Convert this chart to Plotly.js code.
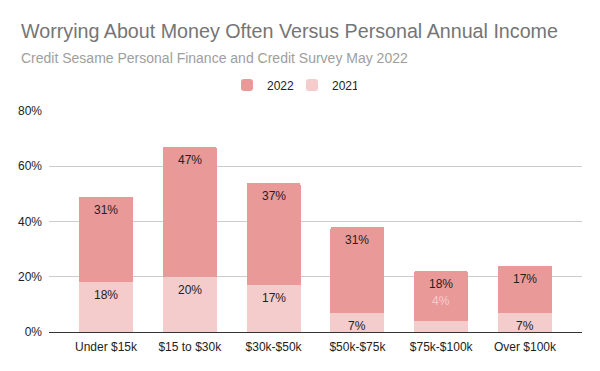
<!DOCTYPE html>
<html>
<head>
<meta charset="utf-8">
<script src="https://cdn.plot.ly/plotly-3.0.1.min.js"></script>
<style>html,body{margin:0;padding:0;background:#fff;}#chart{width:600px;height:371px;}</style>
</head>
<body>
<div id="chart"></div>
<script>
const categories = ["Under $15k", "$15 to $30k", "$30k-$50k", "$50k-$75k", "$75k-$100k", "Over $100k"];
const values2021 = [18, 20, 17, 7, 4, 7];
const values2022 = [31, 47, 37, 31, 18, 17];
const yTickVals = [0, 20, 40, 60, 80];
const yTickText = ["0%", "20%", "40%", "60%", "80%"];
const titleText = "Worrying About Money Often Versus Personal Annual Income";
const subtitleText = "Credit Sesame Personal Finance and Credit Survey May 2022";

const FONT = "Arial, 'Liberation Sans', sans-serif";
const small = values2021.map(v => v < 6);

const t2021 = {
  type: "bar", name: "2021", x: categories, y: values2021,
  marker: {color: "#f4cccc"}, hoverinfo: "skip"
};
const t2022 = {
  type: "bar", name: "2022", x: categories, y: values2022,
  marker: {color: "#ea9999"}, hoverinfo: "skip"
};

// plot area: top 111, bottom 332 (221px); left 49, width 533
const py = pix => (332 - pix) / 221;
const px = pix => (pix - 49) / 533;

const annotations = [{
  xref: "paper", yref: "paper", x: px(19), y: py(31),
  xanchor: "left", yanchor: "middle", showarrow: false,
  text: titleText, font: {family: FONT, size: 19.7, color: "#757575"}
}, {
  xref: "paper", yref: "paper", x: px(19), y: py(58),
  xanchor: "left", yanchor: "middle", showarrow: false,
  text: subtitleText, font: {family: FONT, size: 14, color: "#9e9e9e"}
}];
const labelFont = {family: FONT, size: 12, color: "#222"};
categories.forEach((c, i) => {
  const v1 = values2021[i], v2 = values2022[i];
  // 2022 label near top of the upper segment
  annotations.push({
    x: c, y: v1 + v2, xref: "x", yref: "y", yanchor: "top", yshift: -4,
    showarrow: false, text: v2 + "%", font: labelFont
  });
  if (small[i]) {
    annotations.push({
      x: c, y: v1, xref: "x", yref: "y", yanchor: "bottom",
      yshift: 11, showarrow: false, text: v1 + "%",
      font: {family: FONT, size: 12, color: "#f4cccc"}
    });
  } else {
    annotations.push({
      x: c, y: v1, xref: "x", yref: "y", yanchor: "top", yshift: -4,
      showarrow: false, text: v1 + "%", font: labelFont
    });
  }
});

const layout = {
  width: 600, height: 371,
  margin: {l: 49, r: 18, t: 111, b: 39},
  paper_bgcolor: "#fff", plot_bgcolor: "#fff",
  barmode: "stack", bargap: 0.356, barcornerradius: 2,
  font: {family: FONT, size: 12, color: "#222"},
  showlegend: true,
  legend: {
    orientation: "h", x: px(227), xanchor: "left",
    y: py(85), yanchor: "middle",
    traceorder: "reversed", font: {family: FONT, size: 12, color: "#222"},
    itemwidth: 30, entrywidth: 20
  },
  xaxis: {
    range: [-0.68, 5.68], showgrid: false, zeroline: false,
    showline: true, linecolor: "#333", linewidth: 1,
    ticks: "", ticklabelstandoff: 4,
    tickfont: {family: FONT, size: 12, color: "#222"}, fixedrange: true
  },
  yaxis: {
    range: [0, 80], tickvals: yTickVals, ticktext: yTickText,
    showgrid: true, gridcolor: "#cccccc", gridwidth: 1, zeroline: false,
    showline: false, ticks: "", ticklabelstandoff: 6,
    tickfont: {family: FONT, size: 12, color: "#222"}, fixedrange: true
  },
  annotations: annotations
};

Plotly.newPlot("chart", [t2021, t2022], layout, {displayModeBar: false, staticPlot: true});
</script>
</body>
</html>
